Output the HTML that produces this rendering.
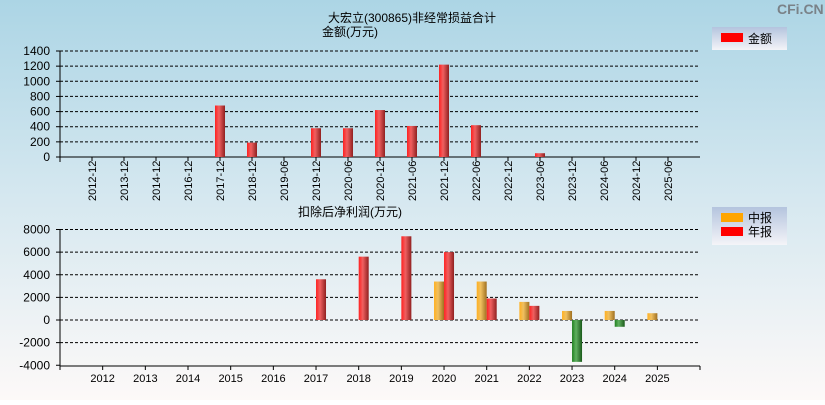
<!DOCTYPE html>
<html><head><meta charset="utf-8"><style>
body{margin:0;width:825px;height:400px;overflow:hidden;font-family:"Liberation Sans","Noto Sans CJK SC",sans-serif;}
svg text{font-family:"Liberation Sans","Noto Sans CJK SC",sans-serif;}
</style></head><body>
<svg id="c" width="825" height="400" xmlns="http://www.w3.org/2000/svg">
<defs>
<linearGradient id="bg" x1="0" y1="0" x2="0" y2="1"><stop offset="0" stop-color="#acd5e5"/><stop offset="0.5" stop-color="#d6e8f0"/><stop offset="1" stop-color="#fdf9f8"/></linearGradient>
<linearGradient id="red" x1="0" x2="1"><stop offset="0" stop-color="#ff2020"/><stop offset="0.4" stop-color="#f06060"/><stop offset="1" stop-color="#902020"/></linearGradient>
<linearGradient id="org" x1="0" x2="1"><stop offset="0" stop-color="#ffb020"/><stop offset="0.4" stop-color="#f0c060"/><stop offset="1" stop-color="#a07020"/></linearGradient>
<linearGradient id="grn" x1="0" x2="1"><stop offset="0" stop-color="#208020"/><stop offset="0.4" stop-color="#60b060"/><stop offset="1" stop-color="#1a5a1a"/></linearGradient>
<linearGradient id="lg" x1="0" y1="0" x2="0" y2="1"><stop offset="0" stop-color="#b4c4de"/><stop offset="1" stop-color="#f4f4f8"/></linearGradient>
</defs>
<rect width="825" height="400" fill="url(#bg)"/>
<text x="777" y="14" font-size="14" fill="#7a8288" font-weight="bold">CFi.CN</text>
<text x="412" y="22" font-size="12" text-anchor="middle">大宏立(300865)非经常损益合计</text>
<text x="350" y="36" font-size="12" text-anchor="middle">金额(万元)</text>
<text x="350" y="216" font-size="12" text-anchor="middle">扣除后净利润(万元)</text>
<g><rect x="712" y="27" width="75" height="23" fill="url(#lg)"/><rect x="721" y="33" width="22" height="9" fill="#f00"/><text x="748" y="43" font-size="12">金额</text></g>
<g><rect x="712" y="207" width="75" height="38" fill="url(#lg)"/><rect x="721" y="213" width="22" height="9" fill="#ffa500"/><text x="748" y="222" font-size="12">中报</text><rect x="721" y="227" width="22" height="9" fill="#f00"/><text x="748" y="236" font-size="12">年报</text></g>
<g id="top"></g><g id="bot"></g>
</svg>
<script>
const topCats=["2012-12","2013-12","2014-12","2016-12","2017-12","2018-12","2019-06","2019-12","2020-06","2020-12","2021-06","2021-12","2022-06","2022-12","2023-06","2023-12","2024-06","2024-12","2025-06"];
const topVals=[0,0,0,0,680,190,0,380,380,620,410,1220,420,0,50,0,0,0,0];
const topTicks=[0,200,400,600,800,1000,1200,1400];
const botYears=["2012","2013","2014","2015","2016","2017","2018","2019","2020","2021","2022","2023","2024","2025"];
const botMid=[null,null,null,null,null,null,null,null,3400,3400,1600,800,800,600];
const botAnnual=[null,null,null,null,null,3600,5600,7400,6000,1900,1250,-3700,-600,null];
const botTicks=[-4000,-2000,0,2000,4000,6000,8000];
const NS="http://www.w3.org/2000/svg";
function mk(p,t,a){const e=document.createElementNS(NS,t);for(const k in a)e.setAttribute(k,a[k]);p.appendChild(e);return e;}
const T=document.getElementById('top');
const ty=v=>157-v*(106/1400), tx=i=>92+i*32;
topTicks.forEach(v=>{const y=ty(v);
 if(v>0){const l=mk(T,'line',{x1:60,x2:700,y1:y,y2:y,stroke:'#000','stroke-dasharray':'3,2'});}
 mk(T,'line',{x1:56,x2:60,y1:y,y2:y,stroke:'#000'});
 const t=mk(T,'text',{x:50,y:y+4,'font-size':12,'text-anchor':'end'});t.textContent=v;
 });
mk(T,'line',{x1:60,x2:60,y1:51,y2:162,stroke:'#000'});
mk(T,'line',{x1:60,x2:700,y1:157,y2:157,stroke:'#000'});
topCats.forEach((c,i)=>{const x=tx(i);
 mk(T,'line',{x1:x,x2:x,y1:157,y2:161,stroke:'#000'});
 const t=mk(T,'text',{transform:`translate(${x+4},201) rotate(-90)`,'font-size':11});t.textContent=c;
 
 if(topVals[i]>0){const r=mk(T,'rect',{x:x-5,y:ty(topVals[i]),width:10,height:157-ty(topVals[i]),fill:'url(#red)'});
  }});
const B=document.getElementById('bot');
const by=v=>320-v*(90.5/8000), bx=i=>60+(i+1)*42.67;
botTicks.forEach(v=>{const y=by(v);
 if(v>-4000){const l=mk(B,'line',{x1:60,x2:700,y1:y,y2:y,stroke:'#000','stroke-dasharray':'3,2'});}
 mk(B,'line',{x1:56,x2:60,y1:y,y2:y,stroke:'#000'});
 const t=mk(B,'text',{x:50,y:y+4,'font-size':12,'text-anchor':'end'});t.textContent=v;
 });
mk(B,'line',{x1:60,x2:60,y1:230,y2:370,stroke:'#000'});
mk(B,'line',{x1:60,x2:700,y1:366,y2:366,stroke:'#000'});
mk(B,'line',{x1:700,x2:700,y1:366,y2:370,stroke:'#000'});
function bar(x,v,fill,name){const y0=by(0),y1=by(v);const r=mk(B,'rect',{x:x,y:Math.min(y0,y1),width:10,height:Math.abs(y1-y0),fill:fill});
 }
botYears.forEach((c,i)=>{const x=bx(i);
 mk(B,'line',{x1:x,x2:x,y1:366,y2:370,stroke:'#000'});
 const t=mk(B,'text',{x:x,y:382,'font-size':11,'text-anchor':'middle'});t.textContent=c;
 
 if(botMid[i]!=null)bar(x-10,botMid[i],'url(#org)','mid-year-bar');
 if(botAnnual[i]!=null)bar(x,botAnnual[i],botAnnual[i]<0?'url(#grn)':'url(#red)','annual-bar');});
</script>
</body></html>
